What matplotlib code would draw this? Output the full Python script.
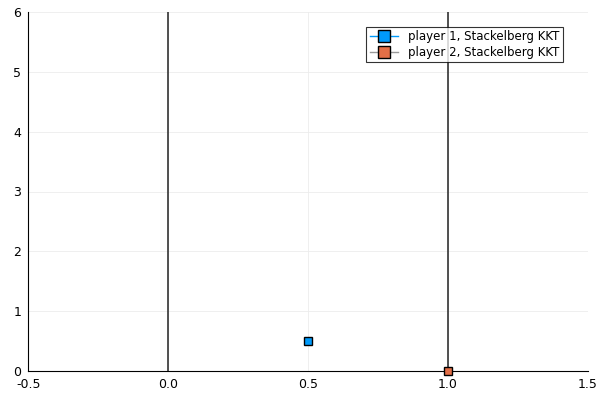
import matplotlib
matplotlib.use("Agg")
import matplotlib.pyplot as plt

# data
p1_x = [0.5]
p1_y = [0.5]
p2_x = [1.0]
p2_y = [0.0]
vlines_x = [0.0, 1.0]
xticks = [-0.5, 0.0, 0.5, 1.0, 1.5]
yticks = [0, 1, 2, 3, 4, 5, 6]

fig = plt.figure(figsize=(6, 4), dpi=100)
ax = fig.add_axes([0.047, 0.0725, 0.933, 0.8975])

for xv in vlines_x:
    ax.axvline(xv, color='#333333', linewidth=1.2, zorder=2)

ax.plot(p1_x, p1_y, marker='s', color='#009AFA', markeredgecolor='black',
        markersize=6, linewidth=1, label='player 1, Stackelberg KKT', zorder=3)
ax.plot(p2_x, p2_y, marker='s', color='#E36F47', markeredgecolor='black',
        markersize=6, linewidth=1, label='player 2, Stackelberg KKT', zorder=3,
        clip_on=False)

ax.set_xlim(-0.5, 1.5)
ax.set_ylim(0, 6)
ax.set_xticks(xticks)
ax.set_xticklabels([str(t) for t in xticks])
ax.set_yticks(yticks)
ax.grid(True, color='#ececec', linewidth=0.6)
ax.set_axisbelow(True)
ax.spines['top'].set_visible(False)
ax.spines['right'].set_visible(False)
ax.tick_params(labelsize=9, length=0, pad=5)

leg = ax.legend(loc='upper right', bbox_to_anchor=(0.965, 0.975), fontsize=8.5,
                frameon=True, fancybox=False, edgecolor='black', handlelength=2.4,
                markerscale=1.5, borderpad=0.3, labelspacing=0.2)
leg.get_frame().set_linewidth(0.8)
leg.legend_handles[1].set_color('#999999')
leg.legend_handles[1].set_markerfacecolor('#E36F47')
leg.legend_handles[1].set_markeredgecolor('black')

fig.savefig('out.png', dpi=100)
